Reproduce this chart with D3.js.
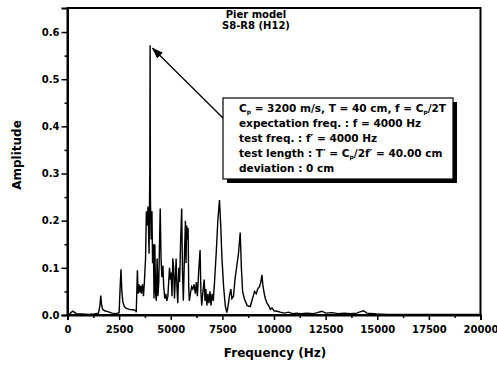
<!DOCTYPE html>
<html>
<head>
<meta charset="utf-8">
<script src="https://cdn.jsdelivr.net/npm/d3@7"></script>
<style>
  body { margin: 0; background: #fff; }
  svg { display: block; font-family: "DejaVu Sans", sans-serif; }
</style>
</head>
<body>
<svg id="chart" width="497" height="365"></svg>
<script>
// spectrum (Hz, amplitude)
const freq = [0, 120, 250, 330, 420, 700, 1000, 1300, 1500, 1570, 1610, 1650, 1700, 1800, 1950, 2150, 2350, 2500,
  2550, 2590, 2630, 2680, 2750, 2850, 3000, 3150, 3290, 3330, 3385, 3420, 3460, 3500, 3540, 3580, 3630, 3680,
  3730, 3780, 3820, 3860, 3900, 3950, 3985, 4000, 4015, 4050, 4090, 4120, 4160, 4190, 4230, 4260, 4300, 4340,
  4380, 4420, 4460, 4490, 4530, 4570, 4620, 4660, 4710, 4760, 4810, 4860, 4900, 4940, 4980, 5020, 5060, 5100,
  5140, 5180, 5220, 5260, 5300, 5340, 5390, 5430, 5480, 5530, 5570, 5610, 5660, 5710, 5740, 5770, 5800, 5840,
  5870, 5900, 5950, 6010, 6070, 6130, 6190, 6240, 6290, 6350, 6420, 6460, 6500, 6560, 6620, 6660, 6700, 6750,
  6800, 6850, 6900, 6950, 7000, 7060, 7120, 7200, 7280, 7360, 7420, 7480, 7560, 7640, 7716, 7780, 7840, 7910,
  7960, 8040, 8110, 8200, 8280, 8363, 8420, 8480, 8560, 8700, 8850, 8960, 9060, 9140, 9220, 9300, 9360, 9415,
  9470, 9530, 9580, 9660, 9740, 9820, 9900, 10000, 10140, 10300, 10500, 10700, 10900, 11100, 11300, 11600,
  11900, 12100, 12320, 12500, 12800, 13100, 13400, 13700, 14000, 14200, 14340, 14500, 14800, 15000, 15500,
  16000, 17000, 18000, 19000, 20000];
const amp = [0.002, 0.003, 0.008, 0.006, 0.003, 0.002, 0.001, 0.002, 0.004, 0.02, 0.041, 0.022, 0.012, 0.009, 0.007, 0.004, 0.003, 0.005,
  0.06, 0.097, 0.05, 0.028, 0.018, 0.014, 0.012, 0.011, 0.01, 0.006, 0.095, 0.045, 0.065, 0.048, 0.062, 0.045, 0.065, 0.04,
  0.075, 0.12, 0.22, 0.19, 0.23, 0.13, 0.3, 0.572, 0.25, 0.16, 0.22, 0.11, 0.15, 0.035, 0.15, 0.05, 0.03, 0.12,
  0.04, 0.07, 0.16, 0.226, 0.12, 0.08, 0.105, 0.06, 0.035, 0.045, 0.03, 0.04, 0.07, 0.1, 0.075, 0.09, 0.04, 0.12,
  0.1, 0.035, 0.075, 0.12, 0.06, 0.025, 0.1, 0.07, 0.16, 0.226, 0.09, 0.03, 0.12, 0.2, 0.11, 0.19, 0.16, 0.185,
  0.06, 0.03, 0.045, 0.06, 0.055, 0.065, 0.045, 0.07, 0.04, 0.09, 0.138, 0.05, 0.02, 0.05, 0.075, 0.03, 0.055, 0.02,
  0.045, 0.025, 0.05, 0.02, 0.045, 0.03, 0.07, 0.13, 0.2, 0.244, 0.19, 0.12, 0.06, 0.02, 0.005, 0.02, 0.04, 0.055,
  0.035, 0.04, 0.075, 0.105, 0.13, 0.175, 0.1, 0.05, 0.035, 0.02, 0.018, 0.035, 0.05, 0.045, 0.056, 0.06, 0.07, 0.085,
  0.06, 0.045, 0.035, 0.025, 0.02, 0.012, 0.015, 0.009, 0.008, 0.006, 0.004, 0.006, 0.003, 0.004, 0.003, 0.004,
  0.003, 0.005, 0.008, 0.004, 0.005, 0.003, 0.004, 0.003, 0.004, 0.007, 0.009, 0.004, 0.003, 0.002, 0.001,
  0.001, 0.001, 0.001, 0.001, 0.001];

const xTicks = [0, 2500, 5000, 7500, 10000, 12500, 15000, 17500, 20000];
const yTicks = [0.0, 0.1, 0.2, 0.3, 0.4, 0.5, 0.6];
const titleLines = ["Pier model", "S8-R8 (H12)"];
const peak = { f: 4000, a: 0.572 };

const svg = d3.select('#chart');
const m = { l: 67.5, r: 480.5, t: 8, b: 315 };

const x = d3.scaleLinear().domain([0, 20000]).range([m.l, m.r]);
const y = d3.scaleLinear().domain([0, 0.651]).range([m.b, m.t]);

// frame
svg.append('rect')
  .attr('x', m.l).attr('y', m.t)
  .attr('width', m.r - m.l).attr('height', m.b - m.t)
  .attr('fill', 'none').attr('stroke', '#000').attr('stroke-width', 2);

// x axis: major + minor ticks
const gx = svg.append('g').attr('transform', `translate(0,${m.b})`);
gx.call(d3.axisBottom(x).tickValues(d3.range(1250, 20000, 2500)).tickSize(3).tickFormat(''));
gx.call(g => g.selectAll('.domain').remove());
const gx2 = svg.append('g').attr('transform', `translate(0,${m.b})`);
gx2.call(d3.axisBottom(x).tickValues(xTicks).tickSize(5).tickPadding(6).tickFormat(d3.format('d')));
gx2.select('.domain').attr('stroke-width', 2);
gx2.selectAll('text').attr('font-size', 10).attr('font-weight', 'bold').attr('font-family', 'DejaVu Sans');

// y axis
const gy = svg.append('g').attr('transform', `translate(${m.l},0)`);
gy.call(d3.axisLeft(y).tickValues(d3.range(0.05, 0.65, 0.1)).tickSize(3).tickFormat(''));
gy.call(g => g.selectAll('.domain').remove());
const gy2 = svg.append('g').attr('transform', `translate(${m.l},0)`);
gy2.call(d3.axisLeft(y).tickValues(yTicks).tickSize(6).tickPadding(2).tickFormat(d3.format('.1f')));
gy2.select('.domain').attr('stroke-width', 2);
gy2.selectAll('text').attr('font-size', 10).attr('font-weight', 'bold').attr('font-family', 'DejaVu Sans');
svg.selectAll('.tick line').attr('stroke-width', 1.5);

// spectrum
const line = d3.line().x((d, i) => x(freq[i])).y((d, i) => y(amp[i]));
svg.append('path')
  .datum(amp)
  .attr('d', line)
  .attr('fill', 'none')
  .attr('stroke', '#000')
  .attr('stroke-width', 1.4)
  .attr('stroke-linejoin', 'miter');

// titles
svg.selectAll('.ttl').data(titleLines).enter().append('text')
  .attr('class', 'ttl')
  .attr('x', 256).attr('y', (d, i) => 18 + i * 11)
  .attr('text-anchor', 'middle')
  .attr('font-size', 10).attr('font-weight', 'bold')
  .text(d => d);

svg.append('text')
  .attr('x', (m.l + m.r) / 2 + 1).attr('y', 357)
  .attr('text-anchor', 'middle')
  .attr('font-size', 12).attr('font-weight', 'bold')
  .text('Frequency (Hz)');

svg.append('text')
  .attr('transform', 'translate(21,155) rotate(-90)')
  .attr('text-anchor', 'middle')
  .attr('font-size', 12).attr('font-weight', 'bold')
  .text('Amplitude');

// annotation box with shadow
const bx = 223, by = 98, bw = 230, bh = 81;
svg.append('rect').attr('x', bx + 4).attr('y', by + 4).attr('width', bw).attr('height', bh).attr('fill', '#000');
svg.append('rect').attr('x', bx).attr('y', by).attr('width', bw).attr('height', bh)
  .attr('fill', '#fff').attr('stroke', '#000').attr('stroke-width', 1.2);

const tx = 239;
const lines = svg.append('g').attr('font-size', 10.5).attr('font-weight', 'bold');
function sub(t, s) {
  t.append('tspan').text(s).attr('font-size', 6).attr('dy', 2);
  return t;
}
let t1 = lines.append('text').attr('x', tx).attr('y', 112);
t1.append('tspan').text('C');
sub(t1, 'p');
t1.append('tspan').attr('dy', -2).text(' = 3200 m/s, T = 40 cm, f = C');
sub(t1, 'p');
t1.append('tspan').attr('dy', -2).text('/2T');

lines.append('text').attr('x', tx).attr('y', 127).text('expectation freq. : f = 4000 Hz');
lines.append('text').attr('x', tx).attr('y', 142).text('test freq. : f\u2032 = 4000 Hz');
let t4 = lines.append('text').attr('x', tx).attr('y', 157);
t4.append('tspan').text('test length : T\u2032 = C');
sub(t4, 'p');
t4.append('tspan').attr('dy', -2).text('/2f\u2032 = 40.00 cm');
lines.append('text').attr('x', tx).attr('y', 172).text('deviation : 0 cm');

// arrow to main peak
svg.append('defs').append('marker')
  .attr('id', 'ah').attr('viewBox', '0 0 10 10').attr('refX', 9).attr('refY', 5)
  .attr('markerWidth', 9).attr('markerHeight', 9).attr('orient', 'auto')
  .append('path').attr('d', 'M0,1.5 L10,5 L0,8.5 z').attr('fill', '#000');
svg.append('line')
  .attr('x1', bx).attr('y1', 118)
  .attr('x2', x(peak.f) + 2.5).attr('y2', y(peak.a) + 3)
  .attr('stroke', '#000').attr('stroke-width', 1.3)
  .attr('marker-end', 'url(#ah)');
</script>
</body>
</html>
